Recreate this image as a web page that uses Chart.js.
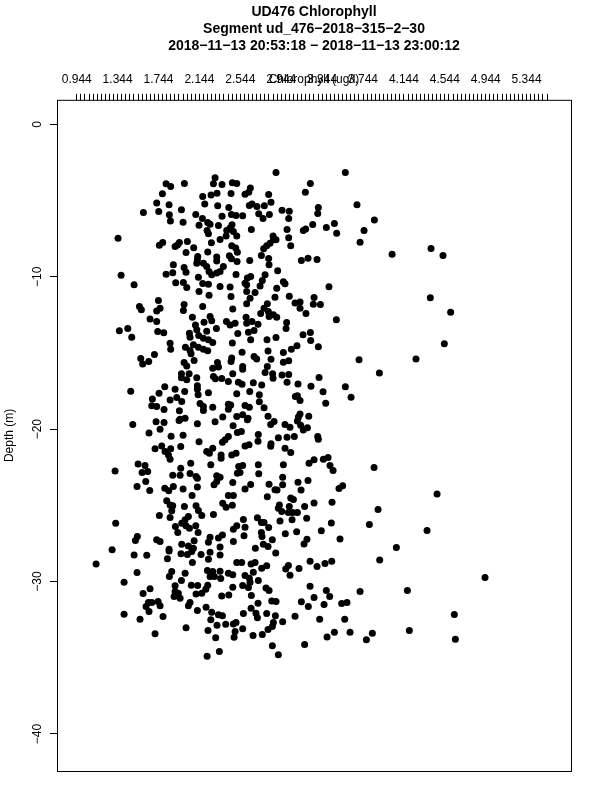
<!DOCTYPE html>
<html>
<head>
<meta charset="utf-8">
<title>UD476 Chlorophyll</title>
<script src="https://cdn.jsdelivr.net/npm/chart.js@4/dist/chart.umd.min.js"></script>
<style>
body { margin: 0; background: #fff; }
canvas { display: block; }
</style>
</head>
<body>
<canvas id="myChart" width="600" height="800"></canvas>
<script>
const titleLines = [
    "UD476 Chlorophyll",
    "Segment ud_476\u22122018\u2212315\u22122\u221230",
    "2018\u221211\u221213 20:53:18 \u2212 2018\u221211\u221213 23:00:12"
]
const xAxisTitle = "Chlorophyll (ug/l)"
const yAxisTitle = "Depth (m)"
const xTickLabels = [0.944, 1.344, 1.744, 2.144, 2.544, 2.944, 3.344, 3.744, 4.144, 4.544, 4.944, 5.344]
const yTickLabels = [0, -10, -20, -30, -40]

// chlorophyll (ug/l)
const chlorophyll = [
    1.818,1.863,1.997,2.297,2.281,2.365,2.466,2.509,1.782,2.176,2.258,2.316,2.453,1.726,1.847,2.196,2.323,2.431,1.596,1.746,
    1.968,1.850,2.108,2.365,2.457,2.502,2.173,1.860,1.984,2.140,2.225,2.248,2.330,2.463,2.219,2.232,2.444,2.411,2.476,2.405,
    2.509,1.348,2.026,1.948,1.785,1.752,1.929,1.906,2.261,2.346,2.460,2.499,2.515,2.088,2.013,2.225,2.127,2.124,2.118,2.313,
    2.313,2.437,2.457,2.512,1.889,2.183,2.215,2.238,2.264,2.346,2.313,2.378,1.994,2.013,1.883,1.818,1.378,2.502,2.134,1.505,
    1.912,1.987,2.020,2.176,2.232,2.346,2.444,
    2.893,3.571,3.229,2.642,2.626,2.590,3.180,2.821,2.844,2.658,2.632,2.707,2.779,3.685,3.307,2.952,3.023,3.301,2.567,2.724,
    2.828,2.766,3.017,3.855,3.252,3.464,3.183,3.160,3.385,2.652,3.001,3.754,3.486,2.864,3.017,2.867,2.893,2.834,2.802,2.772,
    3.715,3.037,4.028,4.409,4.526,2.750,2.821,2.636,3.141,3.206,3.294,2.825,2.909,2.786,2.645,2.613,2.590,2.759,2.737,2.965,
    2.981,2.900,3.411,2.606,
    1.743,1.557,1.576,1.994,1.987,2.176,1.759,1.726,2.238,2.453,2.140,2.470,2.075,1.661,1.726,2.248,2.264,2.189,2.408,2.444,
    2.493,2.105,2.118,1.361,1.443,1.736,1.795,2.310,2.215,2.046,2.052,2.137,2.183,2.232,2.274,2.519,1.482,2.466,1.857,1.863,
    2.007,2.085,2.052,2.062,2.134,2.183,2.225,1.704,1.570,1.589,1.648,2.092,1.994,2.020,2.320,2.274,2.330,2.460,2.453,1.968,
    1.968,2.043,2.020,2.118,2.281,2.300,2.362,2.470,2.427,2.525,1.805,1.906,2.124,2.124,1.749,2.000,2.131,2.232,1.472,2.509,
    1.922,1.857,1.971,1.684,1.678,1.726,2.150,2.183,2.183,2.274,2.427,2.450,2.427,1.798,1.948,2.004,1.955,2.372,2.509,
    2.606,2.688,2.883,3.023,3.265,4.402,2.606,2.639,2.808,3.079,3.128,3.128,3.258,3.327,4.601,2.776,2.743,2.818,2.825,2.867,
    2.900,3.186,2.600,3.483,2.606,2.658,2.717,2.997,2.991,2.623,2.678,3.157,3.229,2.645,2.805,2.893,3.232,4.539,3.098,3.043,
    3.307,2.561,2.815,2.965,2.678,2.704,2.844,2.965,3.017,3.705,4.262,2.567,2.808,2.567,2.786,2.860,2.864,2.952,3.017,3.904,
    3.314,3.001,3.108,2.561,2.671,2.753,3.235,3.571,2.636,3.353,2.730,3.082,3.102,3.128,3.627,2.730,3.379,2.590,2.632,2.776,
    3.128,3.112,3.213,2.815,2.619,2.567,
    1.492,1.720,1.798,1.945,2.124,2.297,2.473,1.759,1.651,1.867,1.984,2.427,2.395,2.369,2.515,2.140,1.775,1.710,1.863,1.961,
    1.808,1.841,1.857,2.215,2.274,2.241,2.356,2.356,2.460,2.502,1.544,1.612,2.059,2.255,2.528,1.319,1.961,1.583,1.638,1.883,
    1.955,2.052,2.111,2.124,2.313,2.346,2.515,1.619,1.534,2.313,2.287,2.470,1.889,1.805,1.844,1.984,2.124,1.658,2.072,2.427,
    2.476,1.824,1.857,1.883,1.873,1.997,2.111,2.134,2.167,2.372,2.405,2.466,1.752,1.857,2.281,2.036,2.004,1.971,1.325,1.909,
    2.013,2.046,1.932,2.108,2.131,2.509,2.476,1.537,1.518,1.726,1.759,2.369,2.330,2.248,2.232,2.476,2.092,1.971,2.036,2.085,
    1.847,2.346,1.290,
    2.613,2.841,2.874,2.981,3.030,3.102,3.134,3.160,3.200,2.554,2.720,3.301,3.307,2.916,3.001,3.072,2.717,2.590,2.629,2.844,
    2.841,2.981,3.037,3.216,3.265,3.356,3.402,3.421,3.451,3.852,2.567,2.720,2.965,2.724,2.541,2.958,3.206,3.108,2.825,2.958,
    2.645,2.590,2.883,2.903,3.138,3.509,3.545,4.468,2.808,3.037,3.063,3.441,3.265,3.173,2.926,3.023,2.916,2.949,3.014,3.056,
    3.102,3.891,2.574,2.711,2.750,2.776,2.932,3.050,3.193,3.434,3.806,2.590,2.821,2.750,2.756,2.984,3.095,3.336,4.370,2.580,
    2.857,3.196,3.167,3.519,2.769,2.815,2.691,4.070,
    1.505,1.629,1.847,1.133,1.831,1.964,2.026,2.069,2.160,2.248,2.232,2.346,2.075,2.509,1.534,1.407,1.873,1.850,2.004,1.968,
    2.222,2.274,2.248,2.290,2.346,2.352,2.427,2.470,2.065,2.127,2.225,2.206,2.470,1.661,1.593,1.906,1.906,1.938,1.896,1.955,
    2.111,2.167,2.362,2.431,1.645,1.678,1.622,1.739,1.759,1.651,2.052,2.036,2.124,2.209,2.264,2.330,2.369,1.407,1.563,1.788,
    2.255,2.316,2.401,2.476,2.502,2.493,2.483,2.013,2.228,1.710,2.303,2.339,2.219,
    2.890,2.557,2.649,2.688,3.226,3.294,3.372,3.438,3.907,3.014,2.988,3.118,2.802,2.753,2.671,3.030,4.937,2.590,2.632,2.720,
    2.639,2.567,2.623,2.795,2.825,3.226,3.385,3.715,4.178,2.652,3.265,3.418,2.717,2.851,2.893,3.141,3.209,3.363,3.535,3.587,
    2.649,2.574,2.697,2.711,2.802,2.887,3.079,3.320,3.565,4.637,2.958,2.867,2.857,2.815,2.567,2.668,2.759,3.464,3.617,3.392,
    3.835,3.777,4.197,4.647,2.857,3.173,2.916
]

// depth below surface (m), same order as chlorophyll
const depth = [
    3.90,4.08,3.88,3.51,3.90,3.95,3.84,3.88,4.56,4.73,4.63,4.52,4.54,5.17,5.28,5.22,5.35,5.46,5.78,5.72,
    5.61,5.94,5.92,6.03,5.92,5.98,6.18,6.35,6.42,6.62,6.44,6.55,6.64,6.59,6.97,7.18,6.81,6.97,7.03,7.32,
    7.32,7.47,7.69,7.75,7.75,7.93,7.91,8.01,7.77,7.56,7.97,8.12,8.39,8.10,8.41,8.37,8.67,8.89,9.11,8.71,
    8.96,8.63,8.82,9.00,9.22,9.11,9.33,9.66,9.87,9.66,9.76,9.33,9.39,9.70,9.74,9.83,9.90,9.85,10.03,10.53,
    10.40,10.38,10.71,10.44,10.49,10.64,10.68,
    3.16,3.16,3.88,4.17,4.45,4.58,4.45,4.60,5.11,5.22,5.33,5.39,5.35,5.28,5.46,5.63,5.70,5.85,6.00,5.87,
    5.92,6.18,6.18,6.27,6.57,6.51,6.86,6.97,6.77,6.90,6.90,6.97,7.14,7.32,7.45,7.58,7.58,7.80,7.97,8.17,
    7.73,7.97,8.52,8.15,8.61,8.61,8.80,8.93,8.93,8.78,8.87,9.22,9.61,9.87,9.98,10.09,10.42,10.25,10.60,10.33,
    10.46,10.75,10.66,10.53,
    11.56,11.95,12.17,11.82,12.22,11.95,12.06,12.24,11.21,11.30,10.97,12.11,12.65,12.78,12.94,12.61,12.89,12.98,12.94,13.16,
    13.05,13.16,13.48,13.55,13.40,13.59,13.68,13.40,13.57,13.70,13.97,13.86,14.03,14.14,14.32,13.72,13.97,14.34,14.36,14.75,
    14.62,14.47,14.84,15.06,14.62,14.75,14.86,15.10,15.37,15.72,15.56,15.50,15.63,15.85,15.63,16.00,15.93,15.34,15.56,16.37,
    16.63,16.37,16.76,16.63,16.55,16.70,16.68,16.37,16.87,16.92,17.22,17.38,17.16,17.38,17.64,17.53,17.75,17.62,17.51,17.68,
    17.92,18.08,18.19,18.03,18.47,18.51,18.32,18.51,18.78,18.56,18.36,18.41,18.69,18.71,18.80,19.28,19.35,19.21,19.17,
    10.97,11.03,11.34,11.28,11.36,11.38,11.78,11.41,11.78,11.73,11.65,12.06,11.80,11.82,12.33,12.06,12.41,12.28,12.61,12.50,
    12.65,12.41,12.65,12.83,13.05,12.94,13.11,13.00,13.40,13.64,13.53,13.81,13.66,14.14,14.14,13.99,14.18,14.40,14.53,14.75,
    14.60,14.95,14.88,14.97,15.23,15.39,15.41,15.61,15.52,15.45,15.39,15.89,15.89,16.07,16.28,16.37,16.66,16.44,16.41,16.31,
    16.61,16.92,17.03,17.05,16.96,17.11,17.18,17.22,17.53,17.55,17.75,17.86,17.81,18.12,17.90,18.21,18.30,18.45,18.56,18.60,
    19.00,19.21,19.15,19.15,19.28,19.06,
    19.70,19.52,19.56,19.43,19.65,19.52,19.78,20.00,20.26,20.46,20.40,20.48,20.70,20.86,20.22,20.83,21.10,21.29,21.29,21.14,
    21.47,21.69,21.97,21.47,21.25,21.58,21.69,21.91,21.69,21.58,22.28,22.39,22.23,22.34,22.45,22.74,22.56,22.85,22.78,23.02,
    23.02,22.91,23.11,23.22,23.06,23.15,22.89,23.44,23.76,23.44,23.65,23.50,23.76,23.87,24.05,23.92,23.79,24.03,24.35,24.35,
    24.35,24.70,24.97,25.03,25.36,25.08,25.03,25.34,25.67,24.86,25.12,24.99,25.67,25.80,25.60,25.73,25.95,26.17,26.17,26.39,
    26.34,26.50,26.78,26.34,26.78,26.34,26.56,27.04,27.31,27.26,27.37,26.94,27.15,27.09,27.42,27.37,27.33,27.55,27.66,27.81,
    27.88,27.74,27.92,
    19.39,19.70,19.50,19.70,19.87,19.46,19.74,20.05,19.91,20.16,20.35,20.48,20.66,20.57,20.53,20.48,20.79,21.10,21.03,20.96,
    21.12,21.25,21.54,22.24,22.01,21.97,21.86,22.39,22.71,22.52,22.39,22.34,22.34,22.93,22.85,23.15,23.37,23.48,23.61,23.65,
    23.63,23.92,23.98,24.00,24.00,23.89,23.72,24.25,24.44,24.51,24.62,24.79,24.84,25.08,24.97,25.08,25.19,25.40,25.47,25.47,
    25.47,25.27,25.93,25.82,26.13,26.13,26.02,25.95,25.84,26.15,26.26,26.43,26.45,26.78,27.04,26.87,26.74,26.67,26.65,27.00,
    27.26,27.22,27.53,27.20,27.55,27.70,27.81,27.77,
    28.25,28.27,27.99,28.84,28.51,28.18,28.23,28.03,28.23,28.07,28.53,28.25,28.75,28.75,29.41,30.04,29.34,29.67,29.45,29.93,
    29.28,29.34,29.67,29.67,29.32,29.80,29.45,29.56,30.24,30.26,30.24,30.50,30.37,30.48,30.78,30.28,30.65,30.76,30.98,31.09,
    30.81,30.76,30.94,30.89,31.38,31.38,31.64,31.31,31.59,31.97,31.38,31.59,31.90,31.68,32.01,32.18,32.25,32.14,32.47,32.29,
    32.51,32.86,32.80,32.78,32.69,33.28,33.65,33.03,33.21,33.43,33.69,34.59,34.90,
    28.12,28.75,28.84,28.75,28.66,29.01,28.82,28.66,28.58,28.95,29.17,29.14,28.97,29.12,29.39,29.58,29.74,29.60,29.78,29.93,
    30.04,30.26,30.39,30.43,30.59,30.30,30.59,30.65,30.59,30.92,31.05,30.98,31.42,31.27,31.31,31.33,31.64,31.51,31.44,31.38,
    31.75,32.10,32.08,32.38,32.10,32.25,32.27,32.47,32.47,32.16,32.64,32.69,32.95,33.15,33.10,33.54,33.47,33.32,33.32,33.63,
    33.39,33.82,33.21,33.78,34.22,34.13,34.81
]

function generarPuntos(){
    let puntos = []
    for (let i = 0; i < chlorophyll.length; i++){
        puntos.push({x: chlorophyll[i], y: -depth[i]})
    }
    return puntos
}

// ticks on the top axis: one every 0.04, a label on every tenth
function ticksSuperiores(axis){
    let ticks = []
    for (let i = 0; i <= 115; i++){
        ticks.push({value: xTickLabels[0] + i * 0.04})
    }
    axis.ticks = ticks
}

const fuente = "'Liberation Sans', Helvetica, Arial, sans-serif"

function generarGrafico(){
    let grafico = document.getElementById('myChart')
    let myChart = new Chart(grafico, {
        type: 'scatter',
        data: {
            datasets: [{
                label: 'Chlorophyll',
                data: generarPuntos(),
                backgroundColor: '#000',
                borderColor: '#000',
                pointRadius: 3.5,
                borderWidth: 0
            }]
        },
        options: {
            responsive: false,
            animation: false,
            layout: {
                padding: {left: 0, right: 29, top: 0, bottom: 29}
            },
            plugins: {
                legend: { display: false },
                tooltip: { enabled: false },
                title: {
                    display: true,
                    fullSize: false,
                    text: titleLines,
                    color: '#000',
                    font: { family: fuente, size: 14, weight: 'bold', lineHeight: 1.21 },
                    padding: { top: 4, bottom: 4 }
                }
            },
            scales: {
                x: {
                    type: 'linear',
                    position: 'top',
                    min: 0.751,
                    max: 5.778,
                    afterBuildTicks: ticksSuperiores,
                    afterFit: function(axis){ axis.height = 41 },
                    grid: { drawOnChartArea: false, tickLength: 6, tickColor: '#000', tickWidth: 1 },
                    border: { display: false },
                    ticks: {
                        autoSkip: false,
                        maxRotation: 0,
                        color: '#000',
                        padding: 7,
                        font: { family: fuente, size: 12 },
                        callback: function(value, index){
                            return index % 10 == 0 ? value.toFixed(3) : ''
                        }
                    },
                    title: {
                        display: true,
                        text: xAxisTitle,
                        color: '#000',
                        font: { family: fuente, size: 12 },
                        padding: { top: 14, bottom: 0 }
                    }
                },
                y: {
                    type: 'linear',
                    position: 'left',
                    min: -42.43,
                    max: 1.608,
                    afterBuildTicks: function(axis){
                        axis.ticks = yTickLabels.map(function(v){ return {value: v} })
                    },
                    afterFit: function(axis){ axis.width = 57 },
                    grid: { drawOnChartArea: false, tickLength: 7, tickColor: '#000', tickWidth: 1 },
                    border: { display: false },
                    ticks: {
                        autoSkip: false,
                        minRotation: 90,
                        maxRotation: 90,
                        crossAlign: 'center',
                        color: '#000',
                        padding: 2,
                        font: { family: fuente, size: 12 },
                        callback: function(value){
                            return value < 0 ? '\u2212' + Math.abs(value) : String(value)
                        }
                    },
                    title: {
                        display: true,
                        text: yAxisTitle,
                        color: '#000',
                        font: { family: fuente, size: 12 },
                        padding: { top: 2, bottom: 0 }
                    }
                }
            }
        },
        plugins: [{
            // plot box, one line all round
            id: 'marco',
            afterDraw: function(chart){
                let area = chart.chartArea
                let ctx = chart.ctx
                ctx.save()
                ctx.strokeStyle = '#000'
                ctx.lineWidth = 1
                ctx.strokeRect(area.left + 0.5, area.top + 0.5, area.right - area.left, area.bottom - area.top)
                ctx.restore()
            }
        }]
    })
}

generarGrafico()
</script>
</body>
</html>
